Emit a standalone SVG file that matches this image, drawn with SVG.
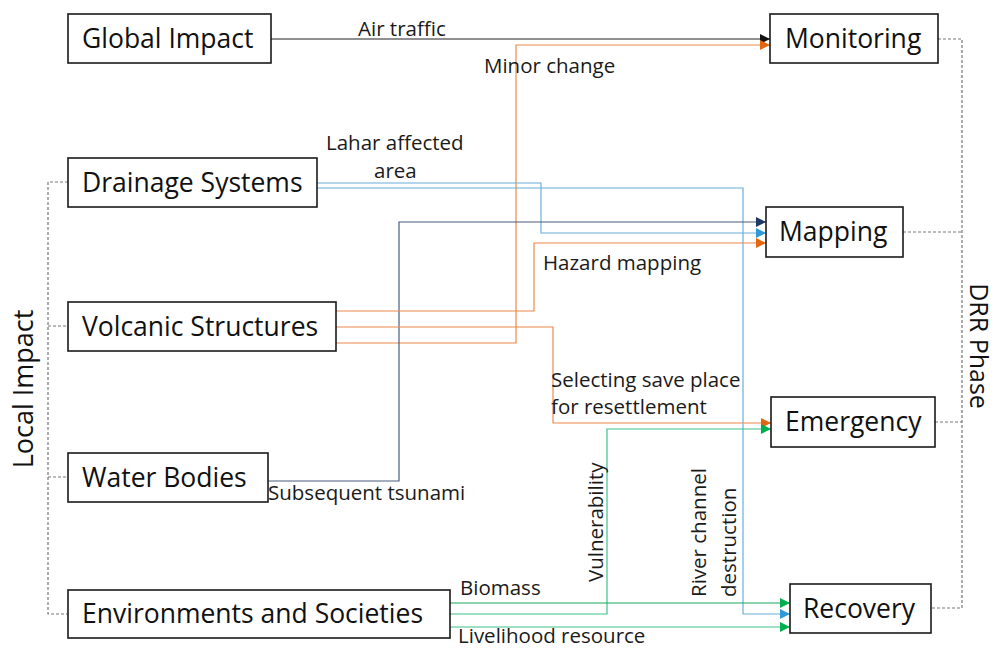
<svg xmlns="http://www.w3.org/2000/svg" width="998" height="648" viewBox="0 0 998 648">
<style>
  .box { fill: #ffffff; stroke: #1a1a1a; stroke-width: 1.6; }
  .nt { font-family: "Open Sans", "Liberation Sans", sans-serif; font-size: 26.5px; fill: #111; }
  .lb { font-family: "Open Sans", "Liberation Sans", sans-serif; font-size: 20.5px; fill: #1a1a1a; }
  .side { font-family: "Open Sans", "Liberation Sans", sans-serif; font-size: 27px; fill: #111; }
  .c { fill: none; stroke-width: 1.2; }
  .blk { stroke: #222; }
  .org { stroke: #ed8a4c; }
  .lbl { stroke: #6aaedc; }
  .nav { stroke: #4a5d7e; }
  .grn { stroke: #17a85c; }
  .lgr { stroke: #3cc28a; }
  .dash { fill: none; stroke: #777; stroke-width: 1.2; stroke-dasharray: 3 2; }
</style>
<defs>
  <marker id="aBlk" viewBox="0 0 10 10" refX="10" refY="5" markerWidth="10" markerHeight="10" markerUnits="userSpaceOnUse" orient="auto"><path d="M0,0 L10,5 L0,10 z" fill="#111"/></marker>
  <marker id="aOrg" viewBox="0 0 10 10" refX="10" refY="5" markerWidth="10" markerHeight="10" markerUnits="userSpaceOnUse" orient="auto"><path d="M0,0 L10,5 L0,10 z" fill="#e2650f"/></marker>
  <marker id="aBlu" viewBox="0 0 10 10" refX="10" refY="5" markerWidth="10" markerHeight="10" markerUnits="userSpaceOnUse" orient="auto"><path d="M0,0 L10,5 L0,10 z" fill="#2f9ad8"/></marker>
  <marker id="aNav" viewBox="0 0 10 10" refX="10" refY="5" markerWidth="10" markerHeight="10" markerUnits="userSpaceOnUse" orient="auto"><path d="M0,0 L10,5 L0,10 z" fill="#1f3864"/></marker>
  <marker id="aGrn" viewBox="0 0 10 10" refX="10" refY="5" markerWidth="10" markerHeight="10" markerUnits="userSpaceOnUse" orient="auto"><path d="M0,0 L10,5 L0,10 z" fill="#00b050"/></marker>
</defs>

<g id="brackets">
  <path class="dash" d="M68,182 H48 V614 H68 M48,326 H68 M48,477 H68"/>
  <path class="dash" d="M938,39 H962 V608 H931 M903,232 H962 M935,422 H962"/>
  <text class="side" transform="translate(33,389) rotate(-90)" text-anchor="middle">Local Impact</text>
  <text class="side" style="font-size:25px" transform="translate(970,346) rotate(90)" text-anchor="middle">DRR Phase</text>
</g>

<g id="connectors">
  <path class="c blk" d="M271,39 H770" marker-end="url(#aBlk)"/>
  <path class="c org" d="M336,343 H516 V45 H770" marker-end="url(#aOrg)"/>
  <path class="c lbl" d="M317,183 H541 V233 H766" marker-end="url(#aBlu)"/>
  <path class="c lbl" d="M317,188 H743 V614 H790" marker-end="url(#aBlu)"/>
  <path class="c nav" d="M268,481 H399 V222 H766" marker-end="url(#aNav)"/>
  <path class="c org" d="M336,311 H534 V243 H766" marker-end="url(#aOrg)"/>
  <path class="c org" d="M336,327 H553 V423 H771" marker-end="url(#aOrg)"/>
  <path class="c lgr" d="M450,614 H607 V429 H771" marker-end="url(#aGrn)"/>
  <path class="c grn" d="M450,603 H790" marker-end="url(#aGrn)"/>
  <path class="c lgr" d="M450,627 H790" marker-end="url(#aGrn)"/>

  <text class="lb" x="358" y="36">Air traffic</text>
  <text class="lb" x="484" y="73">Minor change</text>
  <text class="lb" x="326" y="150">Lahar affected</text>
  <text class="lb" x="374" y="178">area</text>
  <text class="lb" x="543" y="270">Hazard mapping</text>
  <text class="lb" x="551" y="387">Selecting save place</text>
  <text class="lb" x="551" y="414">for resettlement</text>
  <text class="lb" x="268" y="500">Subsequent tsunami</text>
  <text class="lb" transform="translate(603,582) rotate(-90)">Vulnerability</text>
  <text class="lb" transform="translate(706,597) rotate(-90)">River channel</text>
  <text class="lb" transform="translate(736,597) rotate(-90)">destruction</text>
  <text class="lb" x="460" y="595">Biomass</text>
  <text class="lb" x="458" y="643">Livelihood resource</text>
</g>

<g id="global-impact"><rect class="box" x="68" y="14" width="203" height="49"/><text class="nt" x="82" y="48">Global Impact</text></g>
<g id="drainage-systems"><rect class="box" x="68" y="158" width="249" height="49"/><text class="nt" x="82" y="192">Drainage Systems</text></g>
<g id="volcanic-structures"><rect class="box" x="68" y="302" width="268" height="49"/><text class="nt" x="82" y="336">Volcanic Structures</text></g>
<g id="water-bodies"><rect class="box" x="68" y="453" width="200" height="49"/><text class="nt" x="82" y="487">Water Bodies</text></g>
<g id="environments-and-societies"><rect class="box" x="68" y="590" width="382" height="48"/><text class="nt" x="82" y="623">Environments and Societies</text></g>

<g id="monitoring"><rect class="box" x="770" y="14" width="168" height="49"/><text class="nt" x="785" y="48">Monitoring</text></g>
<g id="mapping"><rect class="box" x="766" y="207" width="137" height="50"/><text class="nt" x="779" y="241">Mapping</text></g>
<g id="emergency"><rect class="box" x="771" y="397" width="164" height="50"/><text class="nt" x="785" y="431">Emergency</text></g>
<g id="recovery"><rect class="box" x="790" y="584" width="141" height="49"/><text class="nt" x="803" y="618">Recovery</text></g>
</svg>
